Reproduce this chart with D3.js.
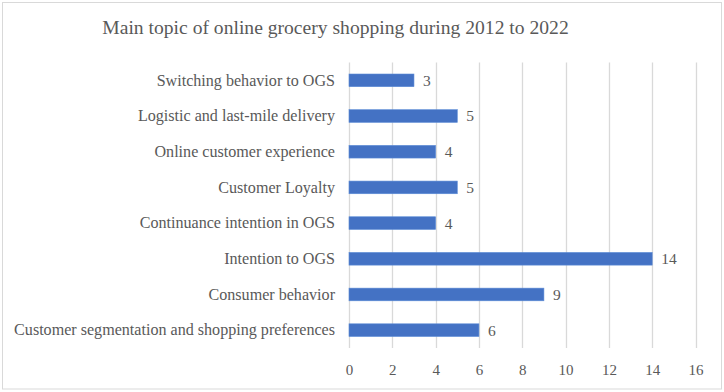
<!DOCTYPE html>
<html>
<head>
<meta charset="utf-8">
<script src="https://cdn.jsdelivr.net/npm/d3@7"></script>
<style>
  body { margin: 0; background: #fff; }
  text { font-family: "Liberation Serif", "DejaVu Serif", serif; fill: #595959; }
</style>
</head>
<body>
<svg id="chart" width="724" height="392"></svg>
<script>
// topics, top to bottom as drawn
const topics = [
  "Switching behavior to OGS",
  "Logistic and last-mile delivery",
  "Online customer experience",
  "Customer Loyalty ",
  "Continuance intention in OGS",
  "Intention to OGS",
  "Consumer behavior",
  "Customer segmentation and shopping preferences"
];
const counts = [3, 5, 4, 5, 4, 14, 9, 6];
const xTicks = [0, 2, 4, 6, 8, 10, 12, 14, 16];
const title = "Main topic of online grocery shopping during 2012 to 2022";

const W = 724, H = 392;
const margin = {top: 62.5, left: 349, right: 28.5, bottom: 44};

const svg = d3.select("#chart");

// outer frame
svg.append("rect")
  .attr("x", 2.5).attr("y", 2.5)
  .attr("width", 719).attr("height", 386.5)
  .attr("fill", "#fff")
  .attr("stroke", "#d9d9d9")
  .attr("stroke-width", 1);

svg.append("text")
  .attr("x", 335.5).attr("y", 34)
  .attr("text-anchor", "middle")
  .style("font-size", "19.6px")
  .text(title);

const x = d3.scaleLinear().domain([0, 16]).range([margin.left, W - margin.right]);
const y = d3.scaleBand().domain(topics).range([margin.top, H - margin.bottom]).paddingInner(0.645).paddingOuter(0.3225);

// vertical gridlines
svg.append("g").selectAll("line")
  .data(xTicks)
  .join("line")
  .attr("x1", d => Math.round(x(d)) + 0.5)
  .attr("x2", d => Math.round(x(d)) + 0.5)
  .attr("y1", margin.top)
  .attr("y2", H - margin.bottom)
  .attr("stroke", "#d9d9d9")
  .attr("stroke-width", 1.3);

// x axis tick labels
const xAxis = d3.axisBottom(x).tickValues(xTicks).tickSize(0).tickPadding(16);
const gx = svg.append("g")
  .attr("transform", `translate(0,${H - margin.bottom})`)
  .call(xAxis);
gx.select(".domain").remove();
gx.selectAll("text")
  .style("font-family", '"Liberation Serif", serif')
  .style("font-size", "15px")
  .attr("fill", "#595959");

// category labels
const yAxis = d3.axisLeft(y).tickSize(0).tickPadding(14);
const gy = svg.append("g")
  .attr("transform", `translate(${margin.left},0)`)
  .call(yAxis);
gy.select(".domain").remove();
gy.selectAll("text")
  .style("font-family", '"Liberation Serif", serif')
  .style("font-size", "16.1px")
  .attr("fill", "#595959");

// bars
svg.append("g").selectAll("rect")
  .data(topics)
  .join("rect")
  .attr("x", x(0))
  .attr("y", d => y(d))
  .attr("width", (d, i) => x(counts[i]) - x(0))
  .attr("height", y.bandwidth())
  .attr("fill", "#4472c4")
  .attr("stroke", "#5b8bd6")
  .attr("stroke-width", 0.6);

// value labels
svg.append("g").selectAll("text")
  .data(topics)
  .join("text")
  .attr("x", (d, i) => x(counts[i]) + 9)
  .attr("y", d => y(d) + y.bandwidth() / 2)
  .attr("dy", "0.35em")
  .style("font-size", "15.5px")
  .text((d, i) => counts[i]);
</script>
</body>
</html>
